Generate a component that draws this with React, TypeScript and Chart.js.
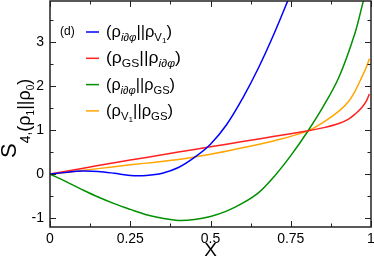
import React, { useEffect, useRef } from "react";
import { Chart, registerables } from "chart.js";

Chart.register(...registerables);

const blueX = [0, 0.05, 0.1, 0.15, 0.2, 0.25, 0.3, 0.35, 0.4, 0.45, 0.5, 0.55, 0.6, 0.65, 0.7, 0.75];
const blueY = [0, 0.04, 0.07, 0.06, 0.02, -0.03, -0.03, 0.02, 0.15, 0.38, 0.68, 1.12, 1.72, 2.42, 3.22, 4.1];

const redX = [0, 0.1, 0.2, 0.3, 0.4, 0.5, 0.6, 0.7, 0.8, 0.85, 0.9, 0.93, 0.95, 0.97, 0.985, 0.995];
const redY = [0, 0.13, 0.26, 0.38, 0.5, 0.62, 0.74, 0.86, 0.98, 1.05, 1.15, 1.25, 1.36, 1.5, 1.65, 1.82];

const greenX = [0, 0.05, 0.1, 0.15, 0.2, 0.25, 0.3, 0.35, 0.4, 0.45, 0.5, 0.55, 0.6, 0.65, 0.7, 0.75, 0.8, 0.85, 0.9, 0.95, 0.975, 1.0];
const greenY = [0, -0.17, -0.35, -0.52, -0.67, -0.8, -0.92, -1.0, -1.05, -1.03, -0.96, -0.84, -0.66, -0.42, -0.04, 0.42, 0.94, 1.52, 2.2, 3.2, 3.9, 4.6];

const orangeX = [0, 0.1, 0.2, 0.3, 0.4, 0.5, 0.6, 0.7, 0.8, 0.85, 0.9, 0.93, 0.95, 0.97, 0.985, 0.995];
const orangeY = [0, 0.08, 0.17, 0.25, 0.33, 0.45, 0.6, 0.76, 0.97, 1.17, 1.43, 1.65, 1.88, 2.18, 2.42, 2.62];

const xTicks = [0, 0.25, 0.5, 0.75, 1];
const xTickLabels = ["0", "0.25", "0.5", "0.75", "1"];
const yTicks = [-1, 0, 1, 2, 3];
const yTickLabels = ["-1", "0", "1", "2", "3"];

const COLORS = { blue: "#0000ff", red: "#ff2020", green: "#009000", orange: "#ffa500" };
const FONT = "'Liberation Sans', Arial, sans-serif";

type Seg = { t: string; size: number; dy: number; italic?: boolean };

function measureRich(ctx: CanvasRenderingContext2D, segs: Seg[]) {
  let w = 0;
  for (const s of segs) {
    ctx.font = `${s.italic ? "italic " : ""}${s.size}px ${FONT}`;
    w += ctx.measureText(s.t).width;
  }
  return w;
}

function drawRich(ctx: CanvasRenderingContext2D, x: number, y: number, segs: Seg[], sx = 1) {
  ctx.save();
  ctx.translate(x, y);
  ctx.scale(sx, 1);
  let cx = 0;
  for (const s of segs) {
    ctx.font = `${s.italic ? "italic " : ""}${s.size}px ${FONT}`;
    ctx.fillText(s.t, cx, s.dy);
    cx += ctx.measureText(s.t).width;
  }
  ctx.restore();
}

const M = 16, S1 = 11, S2 = 8;
const legendRows: { color: string; width: number; segs: Seg[] }[] = [
  {
    color: COLORS.blue,
    width: 66,
    segs: [
      { t: "(ρ", size: M, dy: 0 },
      { t: "i∂φ", size: S1, dy: 4, italic: true },
      { t: "||ρ", size: M, dy: 0 },
      { t: "V", size: S1, dy: 4 },
      { t: "1", size: S2, dy: 6 },
      { t: ")", size: M, dy: 0 },
    ],
  },
  {
    color: COLORS.red,
    width: 75,
    segs: [
      { t: "(ρ", size: M, dy: 0 },
      { t: "GS", size: S1, dy: 4 },
      { t: "||ρ", size: M, dy: 0 },
      { t: "i∂φ", size: S1, dy: 4, italic: true },
      { t: ")", size: M, dy: 0 },
    ],
  },
  {
    color: COLORS.green,
    width: 69,
    segs: [
      { t: "(ρ", size: M, dy: 0 },
      { t: "i∂φ", size: S1, dy: 4, italic: true },
      { t: "||ρ", size: M, dy: 0 },
      { t: "GS", size: S1, dy: 4 },
      { t: ")", size: M, dy: 0 },
    ],
  },
  {
    color: COLORS.orange,
    width: 67,
    segs: [
      { t: "(ρ", size: M, dy: 0 },
      { t: "V", size: S1, dy: 4 },
      { t: "1", size: S2, dy: 6 },
      { t: "||ρ", size: M, dy: 0 },
      { t: "GS", size: S1, dy: 4 },
      { t: ")", size: M, dy: 0 },
    ],
  },
];

const framePlugin = {
  id: "frame",
  afterDraw(chart: any) {
    const { ctx, chartArea: a, scales } = chart;
    const xs = scales.x, ys = scales.y;
    ctx.save();
    ctx.strokeStyle = "#222";
    ctx.lineWidth = 1.5;
    ctx.strokeRect(a.left, a.top, a.right - a.left, a.bottom - a.top);
    ctx.lineWidth = 1;
    ctx.beginPath();
    for (let v = 0; v <= 1.0001; v += 0.125) {
      const px = Math.round(xs.getPixelForValue(v)) + 0.5;
      const major = Math.abs(v / 0.25 - Math.round(v / 0.25)) < 1e-6;
      const L = major ? 6 : 3.5;
      ctx.moveTo(px, a.bottom); ctx.lineTo(px, a.bottom - L);
      ctx.moveTo(px, a.top); ctx.lineTo(px, a.top + L);
    }
    for (let v = -1; v <= 3.6; v += 0.5) {
      const py = Math.round(ys.getPixelForValue(v)) + 0.5;
      const major = Math.abs(v - Math.round(v)) < 1e-6;
      const L = major ? 6 : 3.5;
      ctx.moveTo(a.left, py); ctx.lineTo(a.left + L, py);
      ctx.moveTo(a.right, py); ctx.lineTo(a.right - L, py);
    }
    ctx.stroke();

    // legend
    ctx.fillStyle = "#000";
    ctx.textBaseline = "alphabetic";
    ctx.textAlign = "left";
    ctx.font = `12px ${FONT}`;
    ctx.fillText("(d)", 60, 35);
    legendRows.forEach((r, i) => {
      const ly = 32 + i * 26.3;
      ctx.strokeStyle = r.color;
      ctx.lineWidth = 1.5;
      ctx.beginPath();
      ctx.moveTo(86, ly); ctx.lineTo(99, ly);
      ctx.stroke();
      ctx.fillStyle = "#000";
      const w = measureRich(ctx, r.segs);
      const sx = Math.min(1.1, Math.max(0.75, r.width / w));
      drawRich(ctx, 106, ly + 5, r.segs, sx);
    });

    // x title
    ctx.font = `19px ${FONT}`;
    ctx.textAlign = "center";
    ctx.fillText("X", (a.left + a.right) / 2, 256);

    // y title
    ctx.save();
    ctx.translate(16, 158);
    ctx.rotate(-Math.PI / 2);
    ctx.textAlign = "left";
    drawRich(ctx, 0, 0, [
      { t: "S", size: 22, dy: 0 },
      { t: "4,", size: 14, dy: 14 },
      { t: "(ρ", size: 18, dy: 14 },
      { t: "1", size: 10, dy: 18 },
      { t: "||ρ", size: 18, dy: 14 },
      { t: "0", size: 10, dy: 18 },
      { t: ")", size: 18, dy: 14 },
    ]);
    ctx.restore();
    ctx.restore();
  },
};

function mk(label: string, xs: number[], ys: number[], color: string) {
  return {
    label,
    data: xs.map((x, i) => ({ x, y: ys[i] })),
    borderColor: color,
    borderWidth: 1.5,
    pointRadius: 0,
    fill: false,
    tension: 0.35,
  };
}

export default function App() {
  const ref = useRef<HTMLCanvasElement | null>(null);
  useEffect(() => {
    if (!ref.current) return;
    const chart = new Chart(ref.current, {
      type: "line",
      data: {
        datasets: [
          mk("blue", blueX, blueY, COLORS.blue),
          mk("red", redX, redY, COLORS.red),
          mk("green", greenX, greenY, COLORS.green),
          mk("orange", orangeX, orangeY, COLORS.orange),
        ],
      },
      options: {
        responsive: false,
        animation: false,
        layout: { padding: { top: 1, right: 3, left: 0, bottom: 0 } },
        plugins: { legend: { display: false }, tooltip: { enabled: false } },
        scales: {
          x: {
            type: "linear",
            min: 0,
            max: 1,
            afterFit: (s: any) => { s.height = 30; s.paddingLeft = 0; s.paddingRight = 0; },
            afterBuildTicks: (s: any) => { s.ticks = xTicks.map((v) => ({ value: v })); },
            grid: { display: false, drawTicks: false },
            border: { display: false },
            ticks: {
              color: "#000", padding: 4, font: { size: 14, family: FONT }, maxRotation: 0, autoSkip: false,
              callback: (v: any) => { const i = xTicks.indexOf(Number(v)); return i >= 0 ? xTickLabels[i] : ""; },
            },
          },
          y: {
            type: "linear",
            min: -1.2,
            max: 3.93,
            afterFit: (s: any) => { s.width = 50; s.paddingTop = 0; s.paddingBottom = 0; },
            afterBuildTicks: (s: any) => { s.ticks = yTicks.map((v) => ({ value: v })); },
            grid: { display: false, drawTicks: false },
            border: { display: false },
            ticks: {
              color: "#000", padding: 6, font: { size: 14, family: FONT }, autoSkip: false,
              callback: (v: any) => { const i = yTicks.indexOf(Number(v)); return i >= 0 ? yTickLabels[i] : ""; },
            },
          },
        },
      },
      plugins: [framePlugin],
    });
    return () => chart.destroy();
  }, []);
  return (
    <div style={{ position: "absolute", left: 0, top: 0, width: 374, height: 257, background: "#fff" }}>
      <canvas ref={ref} width={374} height={257} style={{ display: "block" }} />
    </div>
  );
}
